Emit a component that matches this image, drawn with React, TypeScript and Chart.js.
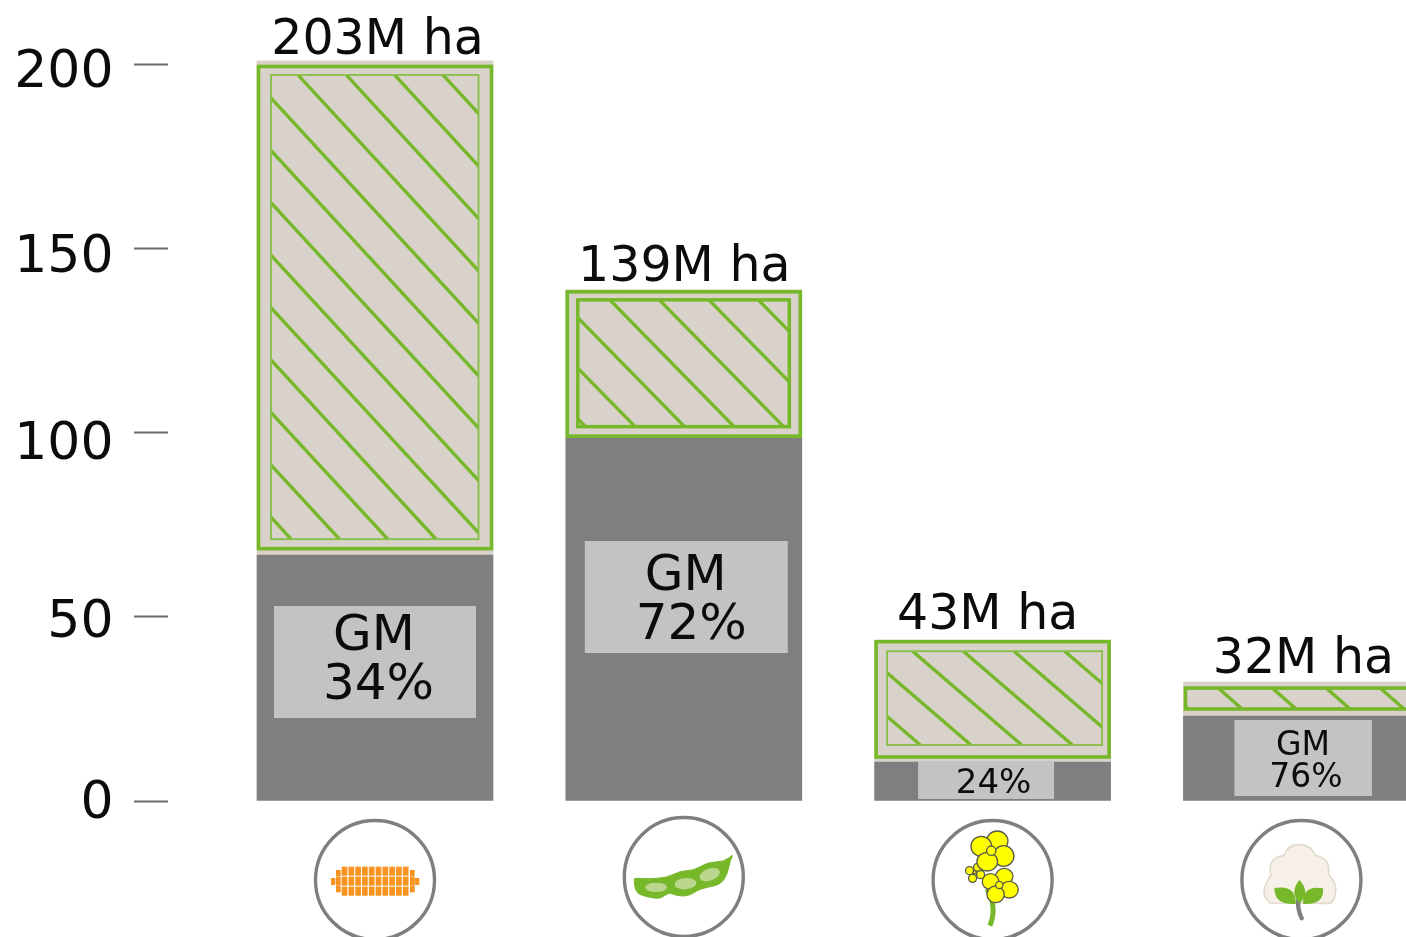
import React, { useEffect, useRef } from "react";
import { Chart, registerables } from "chart.js";

Chart.register(...registerables);

const categories = ["Maize", "Soybean", "Rapeseed", "Cotton"];
const gmArea = [66.8, 98.6, 10.6, 23.1];
const nonGmArea = [134.3, 40.3, 33.1, 9.2];
const totalLabels = ["203M ha", "139M ha", "43M ha", "32M ha"];
const gmLabels = [["GM", "34%"], ["GM", "72%"], ["24%"], ["GM", "76%"]];
const yTicks = [0, 50, 100, 150, 200];

const FONT = '"DejaVu Sans", Verdana, sans-serif';
const GREEN = "#76b82a";
const INK = "#0c0c0c";

type Box = { l: number; r: number; t: number; b: number };
type Deco = {
  frame: Box;
  inner: Box | null;
  innerWidth: number;
  hit: number;
  period: number;
  slope: number;
  total: { dx: number; y: number };
  box: { l: number; r: number; top: number; bottom: number };
  text: { dx: number; y: number }[];
  size: number;
};

const deco: Deco[] = [
  {
    frame: { l: 1.5, r: 1.5, t: 5.5, b: 6.5 },
    inner: { l: 14, r: 14.5, t: 14, b: 16 },
    innerWidth: 1.8,
    hit: 41,
    period: 48.3,
    slope: 1.085,
    total: { dx: 2.5, y: 54 },
    box: { l: 17, r: 17, top: 606, bottom: 718 },
    text: [{ dx: -1, y: 650 }, { dx: 3.5, y: 699 }],
    size: 50,
  },
  {
    frame: { l: 1.5, r: 1.5, t: 2, b: 2 },
    inner: { l: 12, r: 12.5, t: 10, b: 11.5 },
    innerWidth: 3.5,
    hit: 44,
    period: 49.5,
    slope: 1.02,
    total: { dx: 0.5, y: 281 },
    box: { l: 19, r: 14, top: 541, bottom: 653 },
    text: [{ dx: 2, y: 590 }, { dx: 7.5, y: 639 }],
    size: 50,
  },
  {
    frame: { l: 1.5, r: 1.5, t: 1.5, b: 5 },
    inner: { l: 12.5, r: 8.5, t: 11, b: 17 },
    innerWidth: 1.8,
    hit: 38,
    period: 50.7,
    slope: 0.86,
    total: { dx: -5, y: 629 },
    box: { l: 43.5, r: 56.5, top: 761, bottom: 799 },
    text: [{ dx: 1, y: 793 }],
    size: 34,
  },
  {
    frame: { l: 2, r: 1.5, t: 6, b: 7 },
    inner: null,
    innerWidth: 0,
    hit: 35,
    period: 54,
    slope: 0.88,
    total: { dx: 2, y: 673 },
    box: { l: 51, r: 47.5, top: 720, bottom: 796 },
    text: [{ dx: 1.5, y: 755 }, { dx: 4.5, y: 787 }],
    size: 33,
  },
];

const labelNudge: Record<string, number> = { "200": 8, "150": 9, "100": 12, "50": 6, "0": 3 };

function smooth(ctx: CanvasRenderingContext2D, pts: number[][]) {
  ctx.beginPath();
  const n = pts.length;
  const mid = (a: number[], b: number[]) => [(a[0] + b[0]) / 2, (a[1] + b[1]) / 2];
  const s = mid(pts[n - 1], pts[0]);
  ctx.moveTo(s[0], s[1]);
  for (let i = 0; i < n; i++) {
    const m = mid(pts[i], pts[(i + 1) % n]);
    ctx.quadraticCurveTo(pts[i][0], pts[i][1], m[0], m[1]);
  }
  ctx.closePath();
}

function leaf(ctx: CanvasRenderingContext2D, tip: number[], c1: number[], base: number[], c2: number[]) {
  ctx.beginPath();
  ctx.moveTo(tip[0], tip[1]);
  ctx.quadraticCurveTo(c1[0], c1[1], base[0], base[1]);
  ctx.quadraticCurveTo(c2[0], c2[1], tip[0], tip[1]);
  ctx.closePath();
  ctx.fill();
}

function drawCorn(ctx: CanvasRenderingContext2D) {
  ctx.fillStyle = "#f7931e";
  for (let c = 0; c < 10; c++) {
    for (let r = 0; r < 3; r++) {
      ctx.fillRect(125 + c * 20.4, 198 + r * 30, 17, 27);
    }
  }
  [108, 330].forEach((x) => {
    ctx.fillRect(x, 208, 14, 19);
    ctx.fillRect(x, 228, 14, 27);
    ctx.fillRect(x, 256, 14, 19);
  });
  [93, 345].forEach((x) => ctx.fillRect(x, 232, 13, 21));
}

function drawSoy(ctx: CanvasRenderingContext2D) {
  ctx.fillStyle = GREEN;
  ctx.strokeStyle = GREEN;
  ctx.lineWidth = 3;
  ctx.lineJoin = "round";
  smooth(ctx, [
    [1000, 236], [1006, 233], [1040, 236], [1100, 232], [1140, 211], [1180, 211],
    [1220, 186], [1272, 184], [1300, 160], [1288, 182], [1282, 218], [1262, 252],
    [1215, 262], [1190, 270], [1165, 287], [1130, 287], [1105, 275], [1080, 296],
    [1040, 290], [1006, 278],
  ]);
  ctx.fill();
  ctx.stroke();
  ctx.fillStyle = "#b9d68c";
  ctx.beginPath();
  ctx.ellipse(1067, 261, 33, 14, 0, 0, Math.PI * 2);
  ctx.fill();
  ctx.beginPath();
  ctx.ellipse(1155, 250, 33, 17, -0.08, 0, Math.PI * 2);
  ctx.fill();
  ctx.beginPath();
  ctx.ellipse(1228, 223, 32, 18, -0.35, 0, Math.PI * 2);
  ctx.fill();
}

function drawRape(ctx: CanvasRenderingContext2D) {
  ctx.strokeStyle = GREEN;
  ctx.lineCap = "butt";
  ctx.lineWidth = 15;
  ctx.beginPath();
  ctx.moveTo(200, 265);
  ctx.quadraticCurveTo(232, 320, 209, 375);
  ctx.stroke();
  ctx.fillStyle = "#ffff00";
  ctx.strokeStyle = "#5a5a4a";
  ctx.lineWidth = 4;
  const dots: number[][] = [
    [148, 210, 12], [172, 200, 12], [181, 222, 12], [157, 233, 12], [163, 215, 5],
    [231, 121, 32, 30], [183, 137, 31, 30], [250, 166, 31, 31], [201, 183, 31, 28], [213, 150, 14],
    [252, 227, 26, 24], [211, 243, 25, 24], [267, 267, 27, 25], [226, 281, 26, 25], [237, 253, 11],
  ];
  dots.forEach((d) => {
    ctx.beginPath();
    ctx.ellipse(d[0], d[1], d[2], d[3] ?? d[2], 0, 0, Math.PI * 2);
    ctx.fill();
    ctx.stroke();
  });
}

function drawCotton(ctx: CanvasRenderingContext2D) {
  ctx.fillStyle = "#f6f0e8";
  ctx.strokeStyle = "#e0dbd0";
  ctx.lineWidth = 5;
  ctx.beginPath();
  ctx.moveTo(1050, 307);
  ctx.quadraticCurveTo(1025, 290, 1032, 265);
  ctx.quadraticCurveTo(1040, 238, 1052, 225);
  ctx.quadraticCurveTo(1038, 172, 1090, 165);
  ctx.quadraticCurveTo(1105, 130, 1135, 132);
  ctx.quadraticCurveTo(1170, 130, 1185, 165);
  ctx.quadraticCurveTo(1232, 172, 1224, 220);
  ctx.quadraticCurveTo(1252, 250, 1245, 280);
  ctx.quadraticCurveTo(1240, 307, 1225, 308);
  ctx.closePath();
  ctx.fill();
  ctx.stroke();
  ctx.strokeStyle = "#7f7f7f";
  ctx.lineWidth = 13;
  ctx.lineCap = "round";
  ctx.beginPath();
  ctx.moveTo(1133, 300);
  ctx.quadraticCurveTo(1132, 330, 1144, 353);
  ctx.stroke();
  ctx.fillStyle = GREEN;
  leaf(ctx, [1137, 238], [1172, 275], [1138, 308], [1106, 275]);
  leaf(ctx, [1062, 262], [1128, 252], [1126, 310], [1062, 314]);
  leaf(ctx, [1208, 263], [1146, 252], [1148, 310], [1212, 314]);
}

const icons = [
  { draw: drawCorn, ox: 225, oy: 238, dy: 79 },
  { draw: drawSoy, ox: 1150, oy: 230, dy: 76 },
  { draw: drawRape, ox: 217, oy: 238, dy: 79 },
  { draw: drawCotton, ox: 1143, oy: 238, dy: 79 },
];

const decorations = {
  id: "decorations",
  beforeDraw(chart: any) {
    chart.scales.y.getLabelItems().forEach((item: any) => {
      if (item.__nudged) return;
      item.options.translation[1] += labelNudge[String(item.label)] ?? 0;
      item.__nudged = true;
    });
  },
  afterDatasetsDraw(chart: any) {
    const ctx: CanvasRenderingContext2D = chart.ctx;
    const top = chart.getDatasetMeta(1).data;
    const bottom = chart.getDatasetMeta(0).data;
    const scaleBottom = chart.scales.y.getPixelForValue(0);

    categories.forEach((_, i) => {
      const bar = top[i];
      const d = deco[i];
      const L = bar.x - bar.width / 2;
      const R = bar.x + bar.width / 2;
      const T = bar.y;
      const B = bar.base;
      const rect = (b: Box) => ({ x: L + b.l, y: T + b.t, w: R - b.r - (L + b.l), h: B - b.b - (T + b.t) });

      ctx.save();
      ctx.strokeStyle = GREEN;
      const f = rect(d.frame);
      const area = d.inner ? rect(d.inner) : f;

      ctx.save();
      ctx.beginPath();
      ctx.rect(area.x, area.y, area.w, area.h);
      ctx.clip();
      ctx.lineWidth = 3.4;
      for (let k = -12; k < 12; k++) {
        const x0 = L + d.hit + k * d.period;
        ctx.beginPath();
        ctx.moveTo(x0, area.y);
        ctx.lineTo(x0 + area.h / d.slope, area.y + area.h);
        ctx.stroke();
      }
      ctx.restore();

      if (d.inner) {
        ctx.lineWidth = d.innerWidth;
        ctx.strokeStyle = d.innerWidth < 2 ? "#86bf45" : GREEN;
        ctx.strokeRect(area.x, area.y, area.w, area.h);
        ctx.strokeStyle = GREEN;
      }
      ctx.lineWidth = 3.6;
      ctx.strokeRect(f.x, f.y, f.w, f.h);
      ctx.restore();

      const g = bottom[i];
      const gL = g.x - g.width / 2;
      const gR = g.x + g.width / 2;
      ctx.fillStyle = "#c3c3c3";
      ctx.fillRect(gL + d.box.l, d.box.top, gR - d.box.r - (gL + d.box.l), d.box.bottom - d.box.top);

      ctx.fillStyle = INK;
      ctx.textAlign = "center";
      ctx.textBaseline = "alphabetic";
      ctx.font = `${d.size}px ${FONT}`;
      gmLabels[i].forEach((line, n) => {
        ctx.fillText(line, g.x + d.text[n].dx, d.text[n].y);
      });
      ctx.font = `49px ${FONT}`;
      ctx.fillText(totalLabels[i], g.x + d.total.dx, d.total.y);

      const ic = icons[i];
      const cy = scaleBottom + ic.dy;
      ctx.save();
      ctx.translate(g.x, cy);
      ctx.save();
      ctx.scale(1 / 3, 1 / 3);
      ctx.translate(-ic.ox, -ic.oy);
      ic.draw(ctx);
      ctx.restore();
      ctx.beginPath();
      ctx.arc(0, 0, 59.5, 0, Math.PI * 2);
      ctx.lineWidth = 3.4;
      ctx.strokeStyle = "#7f7f7f";
      ctx.stroke();
      ctx.restore();
    });
  },
};

export default function App() {
  const ref = useRef<HTMLCanvasElement>(null);

  useEffect(() => {
    document.body.style.margin = "0";
    const chart = new Chart(ref.current as HTMLCanvasElement, {
      type: "bar",
      data: {
        labels: categories,
        datasets: [
          { label: "GM", data: gmArea, backgroundColor: "#7f7f7f", borderWidth: 0 },
          { label: "Non-GM", data: nonGmArea, backgroundColor: "#d8d2ca", borderWidth: 0 },
        ],
      },
      options: {
        responsive: false,
        animation: false,
        events: [],
        layout: { autoPadding: false, padding: { left: 0, right: 4.2, top: 0, bottom: 136 } },
        plugins: { legend: { display: false }, tooltip: { enabled: false }, title: { display: false } },
        datasets: { bar: { barThickness: 236 } },
        scales: {
          x: {
            stacked: true,
            grid: { display: false, drawTicks: false },
            border: { display: false },
            ticks: { display: false },
          },
          y: {
            stacked: true,
            min: yTicks[0],
            max: 217.66,
            afterFit: (s: any) => {
              s.width = 220.6;
              s.paddingTop = 0;
              s.paddingBottom = 0;
            },
            afterBuildTicks: (s: any) => {
              s.ticks = yTicks.map((value) => ({ value }));
            },
            border: { display: false },
            grid: {
              drawOnChartArea: false,
              drawTicks: true,
              tickLength: 86.6,
              tickWidth: 2,
              tickColor: "#6b6b6b",
              tickBorderDash: [34, 200],
            },
            ticks: {
              padding: 20.5,
              color: INK,
              font: { family: FONT, size: 52 },
            },
          },
        },
      },
      plugins: [decorations],
    } as any);
    return () => chart.destroy();
  }, []);

  return (
    <div style={{ width: 1406, height: 937, overflow: "hidden", background: "#fff" }}>
      <canvas ref={ref} width={1460} height={937} style={{ display: "block" }} />
    </div>
  );
}
